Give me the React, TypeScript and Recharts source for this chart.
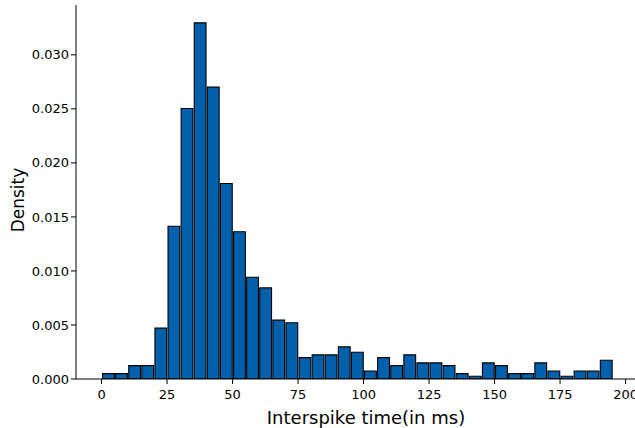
import React from "react";
import { BarChart, Bar, XAxis, YAxis } from "recharts";

// histogram of interspike intervals, 5 ms bins from 0 to 195 ms
const binStarts = [
  0, 5, 10, 15, 20, 25, 30, 35, 40, 45, 50, 55, 60, 65, 70, 75, 80, 85, 90, 95,
  100, 105, 110, 115, 120, 125, 130, 135, 140, 145, 150, 155, 160, 165, 170,
  175, 180, 185, 190,
];
const densities = [
  0.0005, 0.0005, 0.00124, 0.00124, 0.00471, 0.01413, 0.02503, 0.03296,
  0.02701, 0.01809, 0.01363, 0.00942, 0.00843, 0.00545, 0.0052, 0.00198,
  0.00223, 0.00223, 0.00297, 0.00248, 0.00074, 0.00198, 0.00124, 0.00223,
  0.00149, 0.00149, 0.00124, 0.0005, 0.00025, 0.00149, 0.00124, 0.0005, 0.0005,
  0.00149, 0.00074, 0.00025, 0.00074, 0.00074, 0.00173,
];
const xTicks = [0, 25, 50, 75, 100, 125, 150, 175, 200];
const yTicks = [0, 0.005, 0.01, 0.015, 0.02, 0.025, 0.03];

const BIN = 5;
const X_DOMAIN: [number, number] = [-9.75, 204.75];
const Y_DOMAIN: [number, number] = [0, 0.03461];

const CHART_W = 641;
const CHART_H = 428;
const LEFT = 76;
const RIGHT = 3;
const BOTTOM = 49;
const TOP = 5;
const plotWidth = CHART_W - LEFT - RIGHT;
const binPx = (plotWidth / (X_DOMAIN[1] - X_DOMAIN[0])) * BIN;

const data = binStarts.map((start, i) => ({
  mid: start + BIN / 2,
  density: densities[i],
}));

const font = "DejaVu Sans, sans-serif";

// rotated y-axis title
function DensityLabel({ viewBox }: any) {
  const cy = viewBox.y + viewBox.height / 2 + 8;
  return (
    <text
      x={24}
      y={cy}
      transform={`rotate(-90, 24, ${cy})`}
      textAnchor="middle"
      fill="#000"
      fontSize={17}
      fontFamily={font}
    >
      Density
    </text>
  );
}

export default function App() {
  return (
    <div
      style={{
        position: "absolute",
        left: 0,
        top: 0,
        width: 635,
        height: CHART_H,
        overflow: "hidden",
        background: "#fff",
      }}
    >
      <BarChart
        width={CHART_W}
        height={CHART_H}
        data={data}
        margin={{ top: TOP, right: RIGHT, bottom: 0, left: 0 }}
        barCategoryGap={0}
      >
        <XAxis
          dataKey="mid"
          type="number"
          domain={X_DOMAIN}
          ticks={xTicks}
          allowDataOverflow
          height={BOTTOM}
          stroke="#000"
          tickLine={{ stroke: "#000", strokeWidth: 1 }}
          tickSize={5}
          tick={{ fill: "#000", fontSize: 13, fontFamily: font, dy: 4 }}
          label={{
            value: "Interspike time(in ms)",
            position: "insideBottom",
            offset: 4,
            dx: 9,
            fill: "#000",
            fontSize: 18,
            fontFamily: font,
          }}
        />
        <YAxis
          type="number"
          domain={Y_DOMAIN}
          ticks={yTicks}
          allowDataOverflow
          width={LEFT}
          stroke="#000"
          tickSize={5}
          tickFormatter={(v: number) => v.toFixed(3)}
          tick={{ fill: "#000", fontSize: 13, fontFamily: font }}
          label={<DensityLabel />}
        />
        {/* top spine */}
        <XAxis
          xAxisId="top"
          orientation="top"
          type="number"
          domain={X_DOMAIN}
          height={0}
          tick={false}
          tickLine={false}
          stroke="#000"
        />
        <Bar
          dataKey="density"
          fill="#0060ac"
          stroke="#000"
          strokeWidth={1.1}
          barSize={binPx}
          isAnimationActive={false}
        />
      </BarChart>
    </div>
  );
}
